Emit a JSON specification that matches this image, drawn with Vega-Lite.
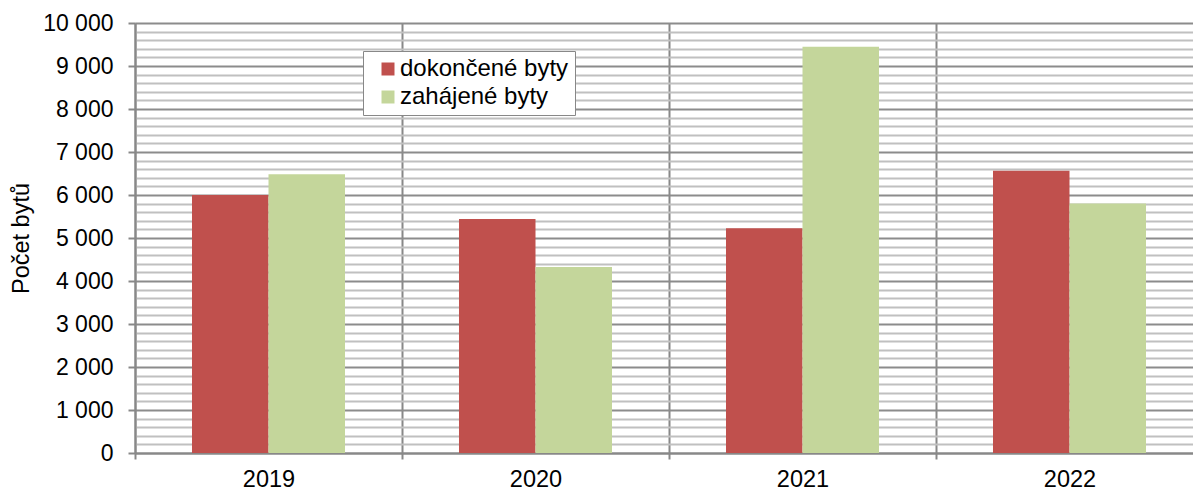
{
  "$schema": "https://vega.github.io/schema/vega-lite/v6.json",
  "width": 1068,
  "height": 430,
  "autosize": {"type": "none"},
  "padding": {"left": 135, "top": 23, "right": 0, "bottom": 37},
  "background": "white",
  "config": {
    "font": "Liberation Sans",
    "view": {"stroke": null}
  },
  "data": {
    "values": [
      {"rok": "2019", "serie": "dokončené byty", "pocet": 6000},
      {"rok": "2019", "serie": "zahájené byty", "pocet": 6480},
      {"rok": "2020", "serie": "dokončené byty", "pocet": 5440},
      {"rok": "2020", "serie": "zahájené byty", "pocet": 4325},
      {"rok": "2021", "serie": "dokončené byty", "pocet": 5225},
      {"rok": "2021", "serie": "zahájené byty", "pocet": 9450},
      {"rok": "2022", "serie": "dokončené byty", "pocet": 6565},
      {"rok": "2022", "serie": "zahájené byty", "pocet": 5800}
    ]
  },
  "mark": {"type": "bar"},
  "encoding": {
    "x": {
      "field": "rok",
      "type": "nominal",
      "scale": {"paddingInner": 0, "paddingOuter": 0},
      "axis": {
        "title": null,
        "labelAngle": 0,
        "labelFontSize": 23.5,
        "labelColor": "black",
        "labelPadding": 8,
        "tickBand": "extent",
        "grid": true,
        "gridColor": "#888888",
        "gridWidth": 2,
        "tickColor": "#888888",
        "tickWidth": 2,
        "tickSize": 6,
        "domainColor": "#888888",
        "domainWidth": 2,
        "zindex": 0
      }
    },
    "xOffset": {
      "field": "serie",
      "type": "nominal",
      "sort": ["dokončené byty", "zahájené byty"],
      "scale": {"paddingInner": 0, "paddingOuter": 0.745}
    },
    "y": {
      "field": "pocet",
      "type": "quantitative",
      "scale": {"domain": [0, 10000], "nice": false},
      "axis": {
        "title": "Počet bytů",
        "titleFontSize": 23.5,
        "titleFontWeight": "normal",
        "titleColor": "black",
        "titleX": -107,
        "titleY": 215,
        "titleAngle": -90,
        "titleAlign": "center",
        "titleBaseline": "alphabetic",
        "tickCount": 50,
        "labelOverlap": false,
        "labelFontSize": 23,
        "labelColor": "black",
        "labelPadding": 15,
        "labelExpr": "datum.value % 1000 === 0 ? replace(format(datum.value, ','), ',', ' ') : ''",
        "tickSize": 7,
        "tickWidth": 2,
        "tickColor": "#888888",
        "tickOpacity": {"condition": {"test": "datum.value % 1000 === 0", "value": 1}, "value": 0},
        "grid": true,
        "gridWidth": 2,
        "gridColor": {"condition": {"test": "datum.value % 1000 === 0", "value": "#8c8c8c"}, "value": "#c0c0c0"},
        "domainColor": "#888888",
        "domainWidth": 2,
        "zindex": 0
      }
    },
    "color": {
      "field": "serie",
      "type": "nominal",
      "scale": {"domain": ["dokončené byty", "zahájené byty"], "range": ["#C0504D", "#C4D69B"]},
      "legend": {
        "title": null,
        "orient": "none",
        "legendX": 228,
        "legendY": 28,
        "symbolType": "square",
        "symbolSize": 169,
        "symbolStrokeWidth": 0,
        "symbolOpacity": 1,
        "symbolOffset": 7,
        "labelFontSize": 24,
        "labelLimit": 400,
        "labelColor": "black",
        "labelOffset": 0,
        "rowPadding": 4,
        "padding": 6,
        "strokeColor": "#888888",
        "fillColor": "white"
      }
    }
  }
}
